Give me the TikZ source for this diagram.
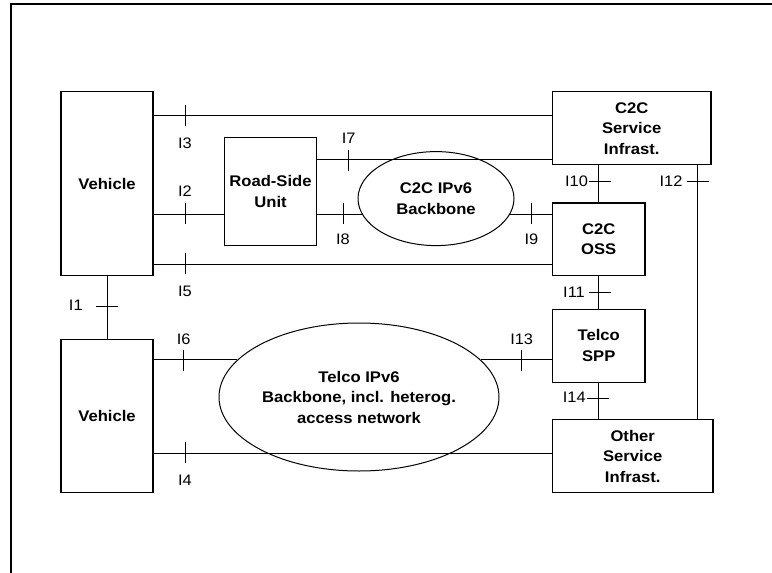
\documentclass[tikz,border=0pt]{standalone}
\usepackage{fontspec}
\setmainfont{Liberation Sans}[FakeStretch=1.08]
\usetikzlibrary{shapes.geometric}

\begin{document}
\begin{tikzpicture}[x=1pt, y=-1pt,
        box/.style={draw, line width=1.1pt, inner sep=0pt, align=center,
            font=\bfseries\fontsize{15.4}{20.5}\selectfont},
        cloud/.style={box, ellipse, line width=1pt},
        lbl/.style={inner sep=0pt, font=\fontsize{15.2}{16}\selectfont},
        link/.style={line width=1pt}]
    \useasboundingbox (0,0) rectangle (772,573);
    \draw[line width=2.2pt] (11,573) -- (11,4) -- (772,4);

    % boxes and backbones
    \node[box, minimum width=92, minimum height=184] (veh1) at (107,183.6) {Vehicle};
    \node[box, minimum width=92, minimum height=153] (veh2) at (107,415.9) {Vehicle};
    \node[box, minimum width=92, minimum height=108] (rsu) at (270.5,191.5) {Road-Side\\Unit};
    \node[box, minimum width=158.6, minimum height=73] (c2csi) at (631.7,128.2) {C2C\\Service\\Infrast.};
    \node[box, minimum width=92.6, minimum height=72.6] (oss) at (598.7,239.3) {C2C\\OSS};
    \node[box, minimum width=92.6, minimum height=73] (spp) at (598.7,345.7) {Telco\\SPP};
    \node[box, minimum width=160.6, minimum height=72.7] (osi) at (632.7,456) {Other\\Service\\Infrast.};
    \node[cloud, minimum width=156, minimum height=94] (c2cbb) at (436,198.6) {C2C IPv6\\Backbone};
    \node[cloud, minimum width=280, minimum height=148] (telbb) at (359,397) {Telco IPv6\\Backbone, incl. heterog.\\access network};

    % interfaces
    \draw[link] (veh1.south) -- (veh2.north);
    \draw[link] (veh1.east |- 0,115.5) -- (c2csi.west |- 0,115.5);
    \draw[link] (rsu.east |- 0,159.7) -- (c2csi.west |- 0,159.7);
    \draw[link] (veh1.east |- 0,214) -- (rsu.west |- 0,214);
    \draw[link] (rsu.east |- c2cbb.192) -- (c2cbb.192);
    \draw[link] (c2cbb.348) -- (oss.west |- c2cbb.348);
    \draw[link] (veh1.east |- 0,264) -- (oss.west |- 0,264);
    \draw[link] (oss.north |- c2csi.south) -- (oss.north);
    \draw[link] ([xshift=-14.3pt]c2csi.south east) -- ([xshift=-14.3pt]c2csi.south east |- osi.north);
    \draw[link] (oss.south) -- (spp.north);
    \draw[link] (spp.south) -- (spp.south |- osi.north);
    \draw[link] (veh2.east |- telbb.163) -- (telbb.163);
    \draw[link] (telbb.17) -- (spp.west |- telbb.17);
    \draw[link] (veh2.east |- 0,453.2) -- (osi.west |- 0,453.2);

    \foreach \x/\y in {185/115.5, 348.6/160, 185/213, 343/213, 531/213, 185/263.5,
            183.7/360.5, 521.7/360.5, 185/452.5}
        \draw[link] (\x,\y-10.5) -- (\x,\y+10.5);
    \foreach \x/\y in {107.3/306, 600/181, 697.5/181, 600/292.4, 598/398}
        \draw[link] (\x-11,\y) -- (\x+11,\y);

    \foreach \n/\x/\y in {1/75.8/305.5, 2/185/191.5, 3/185/143, 4/185/480.5, 5/185/291.5,
            6/183.7/339.5, 7/348.6/138, 8/343/239.5, 9/531.5/239.5, 10/576.5/181.5,
            11/574/292.5, 12/671/181.5, 13/521.7/339, 14/574.3/397}
        \node[lbl] (l\n) at (\x,\y) {I\n};
\end{tikzpicture}
\end{document}
